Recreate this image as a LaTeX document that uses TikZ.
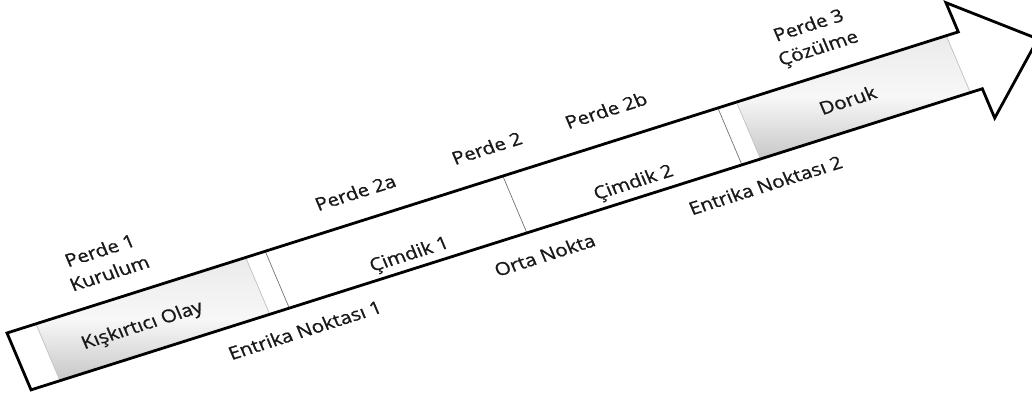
\documentclass[tikz,border=0pt]{standalone}
\usepackage{fontspec}
\setmainfont[FakeBold=0.9]{Open Sans}
\begin{document}
\begin{tikzpicture}[x=1pt,y=1pt,
  lbl/.style={font=\fontsize{20.5}{28}\selectfont, inner sep=0pt, align=center, text=black!90},
  graybox/.style={minimum width=223pt, minimum height=70pt, inner sep=0pt,
    top color=black!8, bottom color=black!22, middle color=white!97!black},
  edge/.style={draw=black!25, line width=0.7pt},
  divider/.style={draw=black!55, line width=0.7pt},
  outline/.style={draw=black, line width=2.8pt, line join=miter}]
\fill[white] (0,-398) rectangle (1032,0);
\useasboundingbox (0,-398) rectangle (1032,0);
\begin{scope}[shift={(7,-333)}, yscale=0.865, rotate=20.1, transform shape]
  % arrow body corners
  \coordinate (a0) at (0,0);
  \coordinate (a1) at (1013,0);
  \coordinate (a2) at (1013,36);
  \coordinate (tip) at (1085,-35);
  \coordinate (a3) at (1013,-106);
  \coordinate (a4) at (1013,-70);
  \coordinate (a5) at (0,-70);
  \fill[white] (a0) -- (a1) -- (a2) -- (tip) -- (a3) -- (a4) -- (a5) -- cycle;
  % shaded boxes
  \node[graybox] (incbox) at (142.5,-35) {};
  \node[graybox] (climaxbox) at (888.5,-35) {};
  \draw[edge] (incbox.north west) -- (incbox.south west);
  \draw[edge] (incbox.north east) -- (incbox.south east);
  \draw[edge] (climaxbox.north west) -- (climaxbox.south west);
  \draw[edge] (climaxbox.north east) -- (climaxbox.south east);
  % dividers
  \coordinate (d1t) at (275,0);   \coordinate (d1b) at (275,-70);
  \coordinate (d2t) at (528,0);   \coordinate (d2b) at (528,-70);
  \coordinate (d3t) at (757,0);   \coordinate (d3b) at (757,-70);
  \draw[divider] (d1t) -- (d1b);
  \draw[divider] (d2t) -- (d2b);
  \draw[divider] (d3t) -- (d3b);
  % outline
  \draw[outline] (a0) -- (a1) -- (a2) -- (tip) -- (a3) -- (a4) -- (a5) -- cycle;
  % labels above
  \node[lbl] (act1) at (120,44) {Perde 1\\Kurulum};
  \node[lbl] (p2a) at (383,33) {Perde 2a};
  \node[lbl] (p2) at (524,36) {Perde 2};
  \node[lbl] (p2b) at (651,36) {Perde 2b};
  \node[lbl] (act3) at (875,43) {Perde 3\\Çözülme};
  % labels inside
  \node[lbl] (inc) at (130,-39) {Kışkırtıcı Olay};
  \node[lbl] (pinch1) at (409,-54) {Çimdik 1};
  \node[lbl] (pinch2) at (648,-53) {Çimdik 2};
  \node[lbl] (climax) at (882,-36) {Doruk};
  % labels below
  \node[lbl] (pp1) at (281,-99) {Entrika Noktası 1};
  \node[lbl] (mid) at (536,-100) {Orta Nokta};
  \node[lbl] (pp2) at (771,-100) {Entrika Noktası 2};
\end{scope}
\end{tikzpicture}
\end{document}
